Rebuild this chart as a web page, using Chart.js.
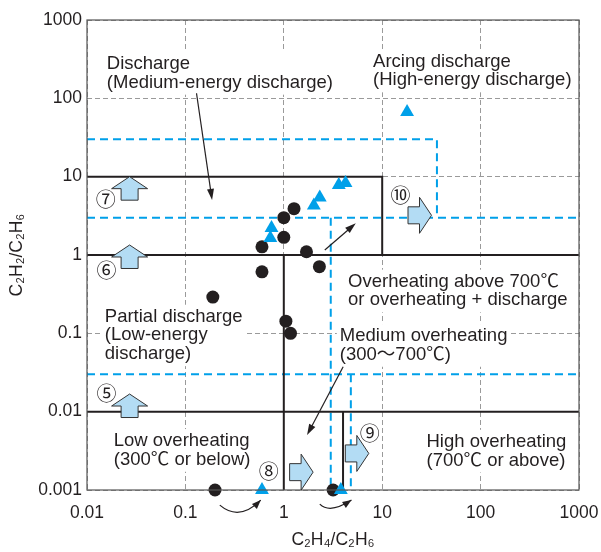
<!DOCTYPE html>
<html><head><meta charset="utf-8">
<script src="https://cdn.jsdelivr.net/npm/chart.js@4/dist/chart.umd.min.js"></script>
<style>html,body{margin:0;padding:0;background:#fff}</style>
</head><body>
<canvas id="c" width="601" height="552"></canvas>
<script>
// ---------- data ----------
const xTickValues = [0.01, 0.1, 1, 10, 100, 1000];
const xTickLabels = ['0.01', '0.1', '1', '10', '100', '1000'];
const yTickValues = [0.001, 0.01, 0.1, 1, 10, 100, 1000];
const yTickLabels = ['0.001', '0.01', '0.1', '1', '10', '100', '1000'];

// black dots (case data)
const circleX = [1.27, 1.0, 1.0, 0.6, 1.7, 2.3, 0.6, 0.19, 1.05, 1.17, 0.2, 3.17];
const circleY = [3.9, 3.0, 1.68, 1.27, 1.1, 0.71, 0.61, 0.29, 0.143, 0.10, 0.001, 0.001];
// blue triangles (case data)
const triangleX = [0.73, 0.75, 2.02, 2.32, 3.62, 4.24, 17.9, 0.60, 3.80];
const triangleY = [1.65, 2.21, 4.29, 5.41, 7.83, 8.3, 67, 0.001, 0.001];

// diagnostic boundaries (solid black)
const solidBoundaryX = [[0.01, 10, 10], [0.01, 1000], [1, 1], [0.01, 1000], [4, 4]];
const solidBoundaryY = [[10, 10, 1], [1, 1], [1, 0.001], [0.01, 0.01], [0.01, 0.001]];
// revised boundaries (blue dashed)
const dashedBoundaryX = [[0.01, 36, 36], [0.01, 1000], [3, 3], [0.01, 1000], [4.8, 4.8]];
const dashedBoundaryY = [[30, 30, 3], [3, 3], [3, 0.001], [0.03, 0.03], [0.03, 0.001]];

// region labels
const regionLabelText = [
  ['Discharge', '(Medium-energy discharge)'],
  ['Arcing discharge', '(High-energy discharge)'],
  ['Partial discharge', '(Low-energy', 'discharge)'],
  ['Low overheating', '(300℃ or below)'],
  ['Overheating above 700℃', 'or overheating + discharge'],
  ['Medium overheating', '(300〜700℃)'],
  ['High overheating', '(700℃ or above)']
];
const regionLabelX = [0.0159, 8.08, 0.01517, 0.0187, 4.5, 3.71, 28.2];
const regionLabelY = [237, 254, 0.1406, 0.00364, 0.394, 0.0797, 0.00356];

// numbered block arrows
const blockArrowNums = ['⑦', '⑥', '⑤', '⑧', '⑨', '⑩'];
const blockArrowDir = ['up', 'up', 'up', 'right', 'right', 'right'];
const blockArrowTipX = [0.0271, 0.0271, 0.0271, 1.986, 7.31, 31.7];
const blockArrowTipY = [10, 1.342, 0.0168, 0.00169, 0.00293, 3.21];
const numLabelX = [0.01552, 0.01578, 0.01578, 0.704, 7.48, 15.38];
const numLabelY = [5.27, 0.663, 0.01754, 0.00177, 0.0054, 5.98];

// thin pointer arrows: [from, to]
const pointerFromX = [0.1297, 2.61, 4.01];
const pointerFromY = [116, 1.16, 0.0374];
const pointerToX = [0.1867, 5.39, 1.725];
const pointerToY = [5.04, 2.54, 0.00502];
// curved arrows: start, control, end
const curveX = [[0.2236, 0.353, 0.5837], [2.322, 2.948, 4.875]];
const curveY = [[0.000641, 0.000395, 0.000743], [0.000661, 0.000492, 0.000743]];

// ---------- styles ----------
const INK = '#231f20';
const BLUE = '#00a0e9';
const GRID = '#9a9a9a';
const FILL = '#b3dcf4';
const FONT = '"Liberation Sans", Arial, "Noto Sans CJK JP", sans-serif';
const LABEL_SIZE = 18.5;
const LINE_H = 18.7;

const pts = (xs, ys) => xs.map((v, i) => ({x: v, y: ys[i]}));

const datasets = [
  {label: 'triangles', data: pts(triangleX, triangleY), pointStyle: 'triangle', pointRadius: 8,
   backgroundColor: BLUE, borderWidth: 0, showLine: false, clip: false},
  {label: 'circles', data: pts(circleX, circleY), pointStyle: 'circle', pointRadius: 6.5,
   backgroundColor: INK, borderWidth: 0, showLine: false, clip: false}
];
solidBoundaryX.forEach((xs, i) => datasets.push({
  label: 'solid' + i, data: pts(xs, solidBoundaryY[i]), showLine: true, pointRadius: 0,
  borderColor: INK, borderWidth: 2, fill: false
}));
dashedBoundaryX.forEach((xs, i) => datasets.push({
  label: 'dashed' + i, data: pts(xs, dashedBoundaryY[i]), showLine: true, pointRadius: 0,
  borderColor: BLUE, borderWidth: 2, borderDash: [8, 5], fill: false
}));

function arrowHead(ctx, x0, y0, x1, y1, len, half) {
  const a = Math.atan2(y1 - y0, x1 - x0);
  ctx.beginPath();
  ctx.moveTo(x1, y1);
  ctx.lineTo(x1 - len * Math.cos(a) + half * Math.sin(a), y1 - len * Math.sin(a) - half * Math.cos(a));
  ctx.lineTo(x1 - len * Math.cos(a) - half * Math.sin(a), y1 - len * Math.sin(a) + half * Math.cos(a));
  ctx.closePath();
  ctx.fill();
}

function blockArrow(ctx, tx, ty, dir) {
  // shape in local coords, tip at (0,0) pointing up
  const headW = 36, headH = 12, shaftW = 17, shaftH = 11.5;
  let p = [[0, 0], [headW / 2, headH], [shaftW / 2, headH], [shaftW / 2, headH + shaftH],
           [-shaftW / 2, headH + shaftH], [-shaftW / 2, headH], [-headW / 2, headH]];
  if (dir === 'right') p = p.map(([a, b]) => [-b, a]);
  ctx.beginPath();
  p.forEach(([a, b], i) => i ? ctx.lineTo(tx + a, ty + b) : ctx.moveTo(tx + a, ty + b));
  ctx.closePath();
  ctx.fillStyle = FILL; ctx.fill();
  ctx.strokeStyle = '#333'; ctx.lineWidth = 1; ctx.stroke();
}

const annot = {
  id: 'annot',
  beforeDatasetsDraw(chart) {
    const {ctx, scales: {x, y}} = chart;
    ctx.save();
    ctx.font = `${LABEL_SIZE}px ${FONT}`;
    ctx.textBaseline = 'alphabetic';
    ctx.textAlign = 'left';
    regionLabelText.forEach((lines, k) => {
      const px = x.getPixelForValue(regionLabelX[k]);
      const py = y.getPixelForValue(regionLabelY[k]);
      const w = Math.max(...lines.map(s => ctx.measureText(s).width));
      const top = py - 16, bottom = py + (lines.length - 1) * LINE_H + 6;
      ctx.fillStyle = '#fff';
      ctx.fillRect(px - 3, top - 1, w + 6, bottom - top + 2);
      ctx.fillStyle = INK;
      lines.forEach((s, i) => ctx.fillText(s, px, py + i * LINE_H));
    });
    ctx.restore();
  },
  afterDatasetsDraw(chart) {
    const {ctx, chartArea: ca, scales: {x, y}} = chart;
    ctx.save();
    // frame
    ctx.strokeStyle = '#555'; ctx.lineWidth = 1.2;
    ctx.strokeRect(ca.left, ca.top, ca.right - ca.left, ca.bottom - ca.top);
    // block arrows + numbers
    blockArrowDir.forEach((d, i) => {
      blockArrow(ctx, x.getPixelForValue(blockArrowTipX[i]), y.getPixelForValue(blockArrowTipY[i]), d);
    });
    ctx.font = `20px "Noto Sans CJK JP", ${FONT}`;
    ctx.textAlign = 'center'; ctx.textBaseline = 'middle';
    ctx.fillStyle = INK;
    blockArrowNums.forEach((s, i) => {
      ctx.fillText(s, x.getPixelForValue(numLabelX[i]), y.getPixelForValue(numLabelY[i]) + 1);
    });
    // pointer arrows
    ctx.strokeStyle = INK; ctx.fillStyle = INK; ctx.lineWidth = 1.2;
    pointerFromX.forEach((v, i) => {
      const x0 = x.getPixelForValue(v), y0 = y.getPixelForValue(pointerFromY[i]);
      const x1 = x.getPixelForValue(pointerToX[i]), y1 = y.getPixelForValue(pointerToY[i]);
      const a = Math.atan2(y1 - y0, x1 - x0);
      ctx.beginPath(); ctx.moveTo(x0, y0); ctx.lineTo(x1 - 6 * Math.cos(a), y1 - 6 * Math.sin(a)); ctx.stroke();
      arrowHead(ctx, x0, y0, x1, y1, 11, 3.5);
    });
    curveX.forEach((xs, i) => {
      const P = xs.map((v, j) => [x.getPixelForValue(v), y.getPixelForValue(curveY[i][j])]);
      ctx.beginPath(); ctx.moveTo(P[0][0], P[0][1]);
      ctx.quadraticCurveTo(P[1][0], P[1][1], P[2][0], P[2][1]); ctx.stroke();
      arrowHead(ctx, P[1][0], P[1][1], P[2][0], P[2][1], 9, 3.5);
    });
    ctx.restore();
  }
};

new Chart(document.getElementById('c'), {
  type: 'scatter',
  data: {datasets},
  options: {
    responsive: false, animation: false, events: [],
    layout: {padding: {top: 20, right: 22, left: 0, bottom: 0}},
    plugins: {legend: {display: false}, tooltip: {enabled: false}},
    scales: {
      x: {
        type: 'logarithmic', min: 0.01, max: 1000, position: 'bottom',
        afterBuildTicks: s => { s.ticks = xTickValues.map(v => ({value: v})); },
        afterFit: s => { s.height = 62; s.paddingLeft = 0; s.paddingRight = 0; },
        ticks: {callback: (v, i) => xTickLabels[i], color: INK, padding: 13, maxRotation: 0,
                font: {size: 17.5, family: FONT}},
        grid: {color: GRID, lineWidth: 1, drawTicks: false, tickLength: 0},
        border: {display: false, dash: [5, 3]},
        title: {display: true, text: 'C₂H₄/C₂H₆', color: INK, font: {size: 17.5, family: FONT},
                padding: {top: 0, bottom: 1.5}}
      },
      y: {
        type: 'logarithmic', min: 0.001, max: 1000,
        afterBuildTicks: s => { s.ticks = yTickValues.map(v => ({value: v})); },
        afterFit: s => { s.width = 87; s.paddingTop = 0; s.paddingBottom = 0; },
        ticks: {callback: (v, i) => yTickLabels[i], color: INK, padding: 5,
                font: {size: 17.5, family: FONT}},
        grid: {color: GRID, lineWidth: 1, drawTicks: false, tickLength: 0},
        border: {display: false, dash: [5, 3]},
        title: {display: true, text: 'C₂H₂/C₂H₆', color: INK, font: {size: 17.5, family: FONT},
                padding: {top: 7, bottom: 0}}
      }
    }
  },
  plugins: [annot]
});
</script>
</body></html>
